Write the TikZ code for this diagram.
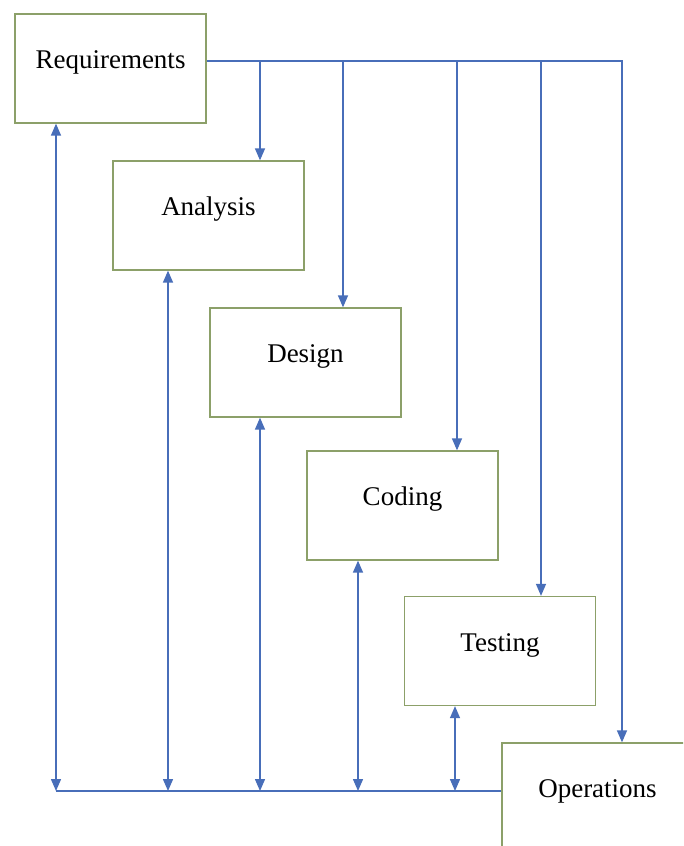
\documentclass[tikz,border=0pt]{standalone}
\usepackage{fontspec}
\setmainfont{Liberation Serif}
\usetikzlibrary{arrows.meta}
\definecolor{lineblue}{RGB}{72,110,185}
\definecolor{boxgreen}{RGB}{140,160,105}
\begin{document}
\begin{tikzpicture}[x=1pt,y=-1pt,
  stage/.style={draw=boxgreen,line width=1.3pt,fill=white,rectangle,
    minimum width=191pt,minimum height=109pt,inner sep=0pt,
    font=\fontsize{27}{30}\selectfont,text height=10pt,text depth=10pt},
  flow/.style={draw=lineblue,line width=1.4pt},
  tip/.tip={Triangle[width=10pt,length=12pt]}]
\useasboundingbox (0,0) rectangle (683,846);
\clip (0,0) rectangle (683,846);
\fill[white] (0,0) rectangle (683,846);
\node[stage] (req) at (110.5,68.5) {Requirements};
\node[stage] (ana) at (208.5,215.5) {Analysis};
\node[stage] (des) at (305.5,362.5) {Design};
\node[stage] (cod) at (402.5,505.5) {Coding};
\node[stage] (tes) at (500,651) {Testing};
\node[stage] (ops) at (597.5,797.5) {Operations};
% top distribution line
\coordinate (t1) at (260,61);
\coordinate (t2) at (343,61);
\coordinate (t3) at (457,61);
\coordinate (t4) at (541,61);
\coordinate (t5) at (622,61);
\draw[flow,-tip] ([yshift=7.5pt]req.east) -- (t5) -- (t5 |- ops.north);
\draw[flow,-tip] (t1) -- (t1 |- ana.north);
\draw[flow,-tip] (t2) -- (t2 |- des.north);
\draw[flow,-tip] (t3) -- (t3 |- cod.north);
\draw[flow,-tip] (t4) -- (t4 |- tes.north);
% bottom feedback line
\coordinate (b0) at (56,791);
\coordinate (b1) at (168,791);
\coordinate (b2) at (260,791);
\coordinate (b3) at (358,791);
\coordinate (b4) at (455,791);
\draw[flow] (b0) -- (b0 -| ops.west);
\draw[flow,tip-tip] (b0) -- (b0 |- req.south);
\draw[flow,tip-tip] (b1) -- (b1 |- ana.south);
\draw[flow,tip-tip] (b2) -- (b2 |- des.south);
\draw[flow,tip-tip] (b3) -- (b3 |- cod.south);
\draw[flow,tip-tip] (b4) -- (b4 |- tes.south);
\end{tikzpicture}
\end{document}
